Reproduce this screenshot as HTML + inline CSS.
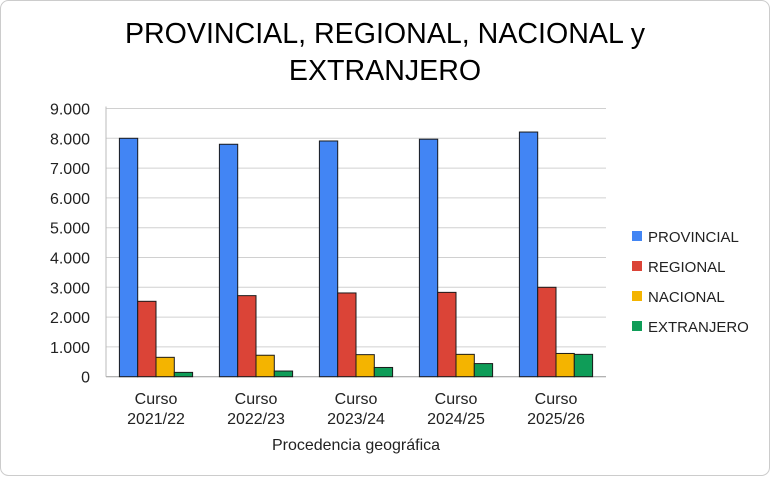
<!DOCTYPE html>
<html><head><meta charset="utf-8"><style>
body{margin:0;background:#fff;}
svg text{font-family:"Liberation Sans",Roboto,sans-serif;}
</style></head><body>
<svg width="770" height="476" xmlns="http://www.w3.org/2000/svg">
<rect x="0.5" y="0.5" width="769" height="475" rx="8" fill="#fff" stroke="#ccc"/>
<text x="385" y="43" font-size="28.6" text-anchor="middle" fill="#000">PROVINCIAL, REGIONAL, NACIONAL y</text>
<text x="385" y="80" font-size="28.6" text-anchor="middle" fill="#000">EXTRANJERO</text>
<g id="grid"></g><g id="bars"></g><g id="axes"></g><g id="legend"></g>
<text x="356" y="450" font-size="16" text-anchor="middle" fill="#222">Procedencia geográfica</text>
</svg>
<script>
const categories=["Curso 2021/22","Curso 2022/23","Curso 2023/24","Curso 2024/25","Curso 2025/26"];
const seriesNames=["PROVINCIAL","REGIONAL","NACIONAL","EXTRANJERO"];
const provincial=[8000,7800,7910,7970,8210];
const regional=[2530,2720,2810,2830,3000];
const nacional=[650,720,740,750,780];
const extranjero=[145,190,310,440,750];
const yTicks=[0,1000,2000,3000,4000,5000,6000,7000,8000,9000];
const yTickLabels=["0","1.000","2.000","3.000","4.000","5.000","6.000","7.000","8.000","9.000"];
const colors=["#4285f4","#db4437","#f4b400","#0f9d58"];
const NS="http://www.w3.org/2000/svg";
const X0=106,X1=606,Y0=376.7,Y1=108.5,YMAX=9000;
const y=v=>Y0-(v/YMAX)*(Y0-Y1);
const gw=(X1-X0)/categories.length, bw=18.3, pad=(gw-4*bw)/2;
const x=(i,s)=>X0+i*gw+pad+s*bw;
function mk(t,a,p){const e=document.createElementNS(NS,t);for(const k in a)e.setAttribute(k,a[k]);p.appendChild(e);return e;}
const grid=document.getElementById('grid'),bars=document.getElementById('bars'),axes=document.getElementById('axes'),leg=document.getElementById('legend');
yTicks.forEach((t,i)=>{
 const l=mk('line',{x1:X0,x2:X1,y1:y(t),y2:y(t),stroke:i==0?'#999':'#d0d0d0','stroke-width':1},grid);
 
 
 const tx=mk('text',{x:90,y:y(t)+6,'font-size':16,'text-anchor':'end',fill:'#222'},axes);
 tx.textContent=yTickLabels[i];
 
 
});
const ax=mk('line',{x1:X0,x2:X0,y1:Y1-2,y2:Y0,stroke:'#bbb'},axes);


const data=[provincial,regional,nacional,extranjero];
data.forEach((arr,s)=>arr.forEach((v,i)=>{
 const r=mk('rect',{x:x(i,s),y:y(v),width:bw,height:Y0-y(v),fill:colors[s],stroke:'#1a1a1a','stroke-width':1},bars);
 
 
}));
categories.forEach((c,i)=>{
 const cx=X0+i*gw+gw/2;const parts=c.split(' ');
 parts.forEach((p,j)=>{
  const t=mk('text',{x:cx,y:404+j*20,'font-size':16,'text-anchor':'middle',fill:'#222'},axes);
  t.textContent=p;
  
  
 });
});
seriesNames.forEach((n,s)=>{
 const yy=237+s*30;
 const r=mk('rect',{x:632,y:yy-6,width:10,height:10,fill:colors[s]},leg);
 
 
 const t=mk('text',{x:648,y:yy+5,'font-size':15,fill:'#222'},leg);
 t.textContent=n;
 
 
});
</script>
</body></html>
